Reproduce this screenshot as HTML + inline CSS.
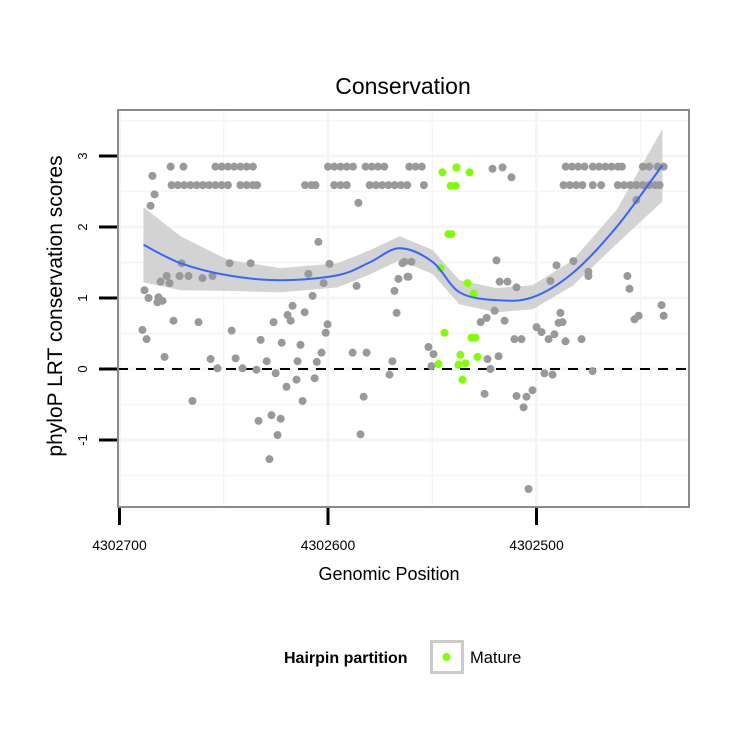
<!DOCTYPE html>
<html><head><meta charset="utf-8"><style>
body{margin:0;background:#fff;}
svg{display:block;font-family:"Liberation Sans",Arial,sans-serif;}
</style></head><body>
<svg id="chart" width="750" height="750" viewBox="0 0 750 750">
<rect width="750" height="750" fill="#fff"/>
<text x="403" y="94" font-size="23" text-anchor="middle">Conservation</text>
<g id="grid"></g>
<g id="band"></g>
<g id="pts"></g>
<g id="line"></g>
<rect x="118" y="110" width="571" height="397" fill="none" stroke="#8a8a8a" stroke-width="2"/>
<g id="axes"></g>
<text x="389" y="580" font-size="18" text-anchor="middle">Genomic Position</text>
<text transform="translate(62,306) rotate(-90)" font-size="21" text-anchor="middle">phyloP LRT conservation scores</text>
<g>
<text x="284" y="663" font-size="16" font-weight="bold">Hairpin partition</text>
<rect x="431.5" y="641.5" width="31" height="31" fill="#fff" stroke="#cccccc" stroke-width="3"/>
<circle cx="446.5" cy="657" r="4" fill="#7fff00"/>
<text x="470" y="663" font-size="16.5">Mature</text>
</g>
</svg>
<script>
// offsets are bp below 4302700
const rowTop=[24.5,30.7,46,49,52,55,58,61,64,100,103,106,109,112,118,121,124,127,139,142,145,214,217,220,223,227,230,233,236,239,241,251,254,258,261];
const rowSecond=[25,28,31,34,37,40,43,46,49,52,58,61,64,66,89,92,94,103,106,109,120,123,126,129,132,135,138,146,213,216,219,222,227,231,239,242,245,248,251,254,257,259];
const grayPos=[15.8,16.8,14.9,114.6,95.4,29.8,52.8,62.9,100.7,90.6,22.6,28.8,33.1,39.8,44.6,19.7,24.0,97.9,113.7,12.0,13.9,18.7,18.2,20.6,92.6,83.0,80.6,82.1,88.8,73.9,25.9,37.9,99.8,98.9,11.0,13.0,53.8,67.7,77.8,86.8,96.9,111.8,118.5,21.6,43.7,55.7,70.6,85.4,94.6,47.0,59.0,65.7,74.9,84.9,93.6,80.1,87.8,35.0,117.1,66.7,72.9,77.3,75.8,115.6,71.9,130.9,129.5,131.9,132.9,133.8,135.7,138.1,178.9,183.7,188.0,180.8,136.7,140.0,138.6,209.6,217.7,224.9,224.9,206.7,182.3,186.1,190.4,247.9,243.6,244.6,260.0,261.0,247.0,249.0,179.9,184.7,173.2,176.1,211.5,210.6,212.5,200.0,202.4,208.6,205.8,213.9,221.6,189.4,192.8,148.2,150.6,149.6,176.5,181.8,177.9,203.8,207.7,226.9,175.1,190.4,195.2,198.1,193.8,196.2];
const grayScore=[2.72,2.46,2.30,2.34,1.79,1.49,1.49,1.49,1.48,1.34,1.31,1.31,1.31,1.28,1.31,1.23,1.21,1.21,1.17,1.11,1.00,1.01,0.94,0.96,1.03,0.89,0.76,0.68,0.80,0.66,0.68,0.66,0.63,0.51,0.55,0.42,0.54,0.41,0.37,0.34,0.23,0.23,0.23,0.17,0.14,0.15,0.11,0.11,0.10,0.01,0.01,-0.01,-0.06,-0.15,-0.13,-0.25,-0.45,-0.45,-0.39,-0.73,-0.65,-0.70,-0.93,-0.92,-1.27,0.11,-0.08,1.10,0.79,1.27,1.49,1.30,2.82,2.84,2.70,1.53,1.51,1.51,1.30,1.46,1.52,1.37,1.31,1.24,1.23,1.23,1.15,2.38,1.31,1.13,0.90,0.75,0.70,0.75,0.82,0.68,0.66,0.72,0.79,0.65,0.66,0.59,0.52,0.49,0.42,0.39,0.42,0.42,0.42,0.31,0.21,0.04,0.14,0.18,0.00,-0.06,-0.08,-0.03,-0.35,-0.38,-0.39,-0.30,-0.54,-1.69];
const maturePos=[154.9,161.6,167.9,158.8,161.2,157.8,159.2,154.0,166.9,169.8,155.9,168.8,170.7,163.5,171.7,153.0,162.6,166.0,164.5];
const matureScore=[2.77,2.84,2.77,2.58,2.58,1.90,1.90,1.42,1.21,1.06,0.51,0.44,0.44,0.20,0.17,0.07,0.06,0.08,-0.15];
const fitPos=[11.5,29.3,51.8,77.2,104.6,119.9,134.3,150.1,163.1,180.8,198.1,217.3,238.4,260.4];
const fitVal=[1.75,1.49,1.32,1.25,1.32,1.50,1.70,1.51,1.08,0.97,1.01,1.35,2.00,2.87];
const fitSE=[0.53,0.38,0.22,0.17,0.17,0.17,0.17,0.17,0.17,0.17,0.17,0.18,0.24,0.51];
const xTicks=[4302700,4302600,4302500];
const yTicks=[-1,0,1,2,3];
const TOP_SCORE=2.85, SECOND_SCORE=2.59;

const NS='http://www.w3.org/2000/svg';
const X=p=>119.5+(4302700-p)*2.085;
const XO=o=>X(4302700-o);
const Y=v=>369-v*71;
function mk(tag,attrs,parent){const e=document.createElementNS(NS,tag);for(const k in attrs)e.setAttribute(k,attrs[k]);parent.appendChild(e);return e;}

const grid=document.getElementById('grid');
[4302750,4302700,4302650,4302600,4302550,4302500,4302450].forEach(p=>{const x=X(p);if(x>118&&x<689){
const l=mk('line',{x1:x,x2:x,y1:110,y2:507,stroke:'#f5f5f5','stroke-width':p%100===0?3:1.5},grid);

}});
[-1.5,-1,-0.5,0,0.5,1,1.5,2,2.5,3,3.5].forEach(v=>{const y=Y(v);if(y>110&&y<507){
const l=mk('line',{x1:118,x2:689,y1:y,y2:y,stroke:'#f5f5f5','stroke-width':Number.isInteger(v)?3:1.5},grid);

}});

const band=document.getElementById('band');
let d='';fitPos.forEach((o,i)=>{d+=(i?'L':'M')+XO(o)+','+Y(fitVal[i]+fitSE[i]);});
for(let i=fitPos.length-1;i>=0;i--)d+='L'+XO(fitPos[i])+','+Y(fitVal[i]-fitSE[i]);
const b=mk('path',{d:d+'Z',fill:'#d3d3d3'},band);



const pts=document.getElementById('pts');
const zl=mk('line',{x1:118,x2:689,y1:Y(0),y2:Y(0),stroke:'#000','stroke-width':2,'stroke-dasharray':'10,8'},pts);


function dot(o,s,c,name){const e=mk('circle',{cx:XO(o),cy:Y(s),r:4,fill:c},pts);

}
rowTop.forEach(o=>dot(o,TOP_SCORE,'#999999','point-other'));
rowSecond.forEach(o=>dot(o,SECOND_SCORE,'#999999','point-other'));
grayPos.forEach((o,i)=>dot(o,grayScore[i],'#999999','point-other'));
maturePos.forEach((o,i)=>dot(o,matureScore[i],'#7fff00','point-mature'));

const line=document.getElementById('line');
const P=fitPos.map((o,i)=>[XO(o),Y(fitVal[i])]);
let ld='M'+P[0][0]+','+P[0][1];
for(let i=0;i<P.length-1;i++){const p0=P[i-1]||P[i],p1=P[i],p2=P[i+1],p3=P[i+2]||p2;
ld+=`C${p1[0]+(p2[0]-p0[0])/6},${p1[1]+(p2[1]-p0[1])/6} ${p2[0]-(p3[0]-p1[0])/6},${p2[1]-(p3[1]-p1[1])/6} ${p2[0]},${p2[1]}`;}
const fl=mk('path',{d:ld,fill:'none',stroke:'#3366ff','stroke-width':2},line);



const axes=document.getElementById('axes');
xTicks.forEach(p=>{const x=X(p);
const t=mk('line',{x1:x,x2:x,y1:508,y2:525,stroke:'#000','stroke-width':3},axes);


const l=mk('text',{x:x,y:550,'font-size':14,'text-anchor':'middle'},axes);l.textContent=p;

});
yTicks.forEach(v=>{const y=Y(v);
const t=mk('line',{x1:99,x2:117,y1:y,y2:y,stroke:'#000','stroke-width':3},axes);


const l=mk('text',{transform:`translate(87,${y}) rotate(-90)`,'font-size':13,'text-anchor':'middle'},axes);l.textContent=v;

});
</script>
</body></html>
